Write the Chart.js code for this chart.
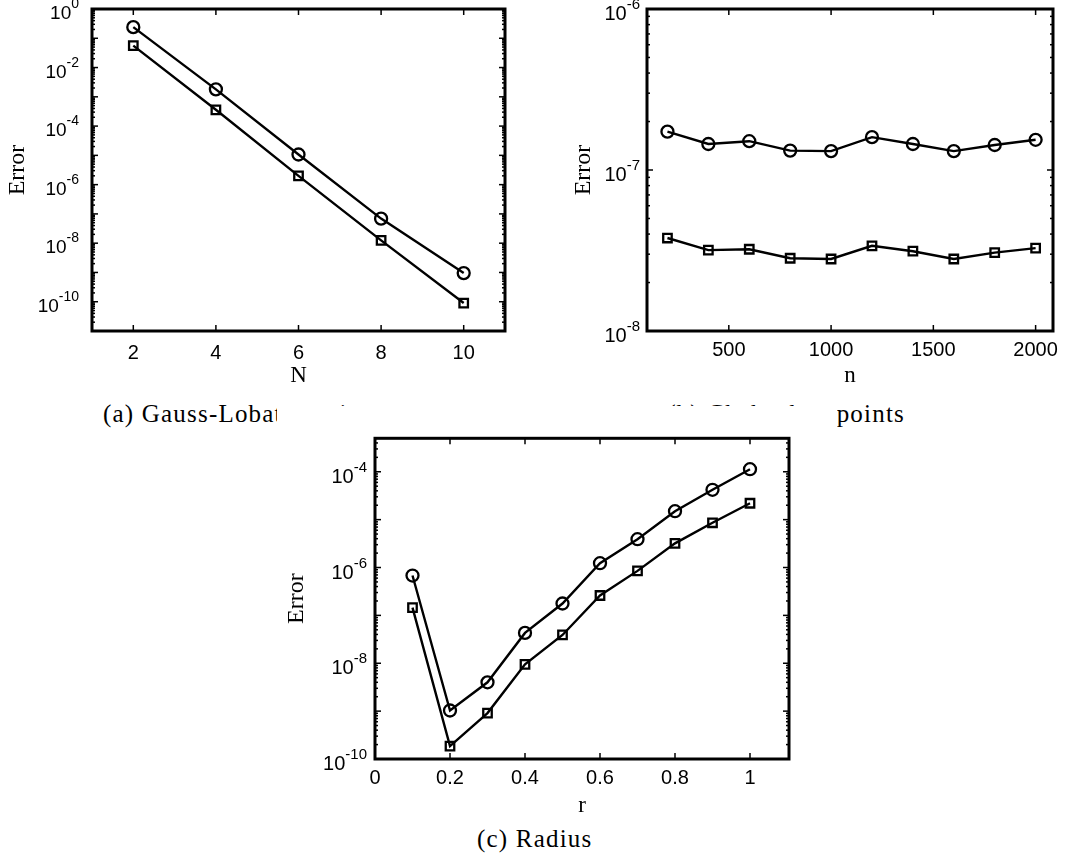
<!DOCTYPE html>
<html>
<head>
<meta charset="utf-8">
<script src="https://cdn.jsdelivr.net/npm/chart.js@4.4.1/dist/chart.umd.min.js"></script>
<style>
  body { margin: 0; background: #fff; }
  #page { position: relative; width: 1078px; height: 862px; overflow: hidden; background: #fff; }
  canvas { position: absolute; }
  .cap {
    position: absolute;
    font-family: "Liberation Serif", "Times New Roman", serif;
    font-size: 25px;
    line-height: 25px;
    letter-spacing: 1.2px;
    white-space: nowrap;
    color: #000;
  }
  #cover { position: absolute; left: 277px; top: 406px; width: 560px; height: 24px; background: #fff; }
</style>
</head>
<body>
<div id="page">
  <canvas id="chartA" width="540" height="390" style="left:0;top:0"></canvas>
  <canvas id="chartB" width="538" height="390" style="left:540px;top:0"></canvas>
  <div class="cap" style="left:103px;top:401px">(a) Gauss-Lobatto points</div>
  <div class="cap" style="right:173px;top:401px;text-align:right">(b) Chebyshev points</div>
  <div id="cover"></div>
  <canvas id="chartC" width="520" height="390" style="left:280px;top:430px"></canvas>
  <div class="cap" style="left:477px;top:826px">(c) Radius</div>
</div>
<script>
// (a) Gauss-Lobatto points
const nA = [2, 4, 6, 8, 10];
const circleA = [0.24, 1.8e-3, 1.07e-5, 6.9e-8, 9.5e-10];
const squareA = [0.056, 3.6e-4, 2.0e-6, 1.25e-8, 9.0e-11];
const xTicksA = [2, 4, 6, 8, 10];
const yTicksA = [1e0, 1e-2, 1e-4, 1e-6, 1e-8, 1e-10];

// (b) Chebyshev points
const nB = [200, 400, 600, 800, 1000, 1200, 1400, 1600, 1800, 2000];
const circleB = [1.73e-7, 1.45e-7, 1.51e-7, 1.32e-7, 1.31e-7, 1.60e-7, 1.45e-7, 1.31e-7, 1.43e-7, 1.54e-7];
const squareB = [3.78e-8, 3.18e-8, 3.22e-8, 2.83e-8, 2.80e-8, 3.38e-8, 3.13e-8, 2.80e-8, 3.07e-8, 3.27e-8];
const xTicksB = [500, 1000, 1500, 2000];
const yTicksB = [1e-6, 1e-7, 1e-8];

// (c) Radius
const rC = [0.1, 0.2, 0.3, 0.4, 0.5, 0.6, 0.7, 0.8, 0.9, 1.0];
const circleC = [6.8e-7, 1.03e-9, 4.0e-9, 4.3e-8, 1.77e-7, 1.23e-6, 3.9e-6, 1.5e-5, 4.2e-5, 1.13e-4];
const squareC = [1.45e-7, 1.86e-10, 9.1e-10, 9.5e-9, 3.9e-8, 2.6e-7, 8.5e-7, 3.2e-6, 8.6e-6, 2.2e-5];
const xTicksC = [0, 0.2, 0.4, 0.6, 0.8, 1];
const yTicksC = [1e-4, 1e-6, 1e-8, 1e-10];

Chart.defaults.font.family = '"Liberation Sans", Arial, sans-serif';
Chart.defaults.color = "#000";

// box, inward ticks and 10^k labels, MATLAB style
const framePlugin = {
  id: "frame",
  afterDraw(chart, args, opts) {
    const { ctx, chartArea: a } = chart;
    const x = chart.scales.x;
    const y = chart.scales.y;
    ctx.save();
    ctx.strokeStyle = "#000";
    ctx.lineWidth = 1.5;
    const seg = (x1, y1, x2, y2) => {
      ctx.beginPath();
      ctx.moveTo(x1, y1);
      ctx.lineTo(x2, y2);
      ctx.stroke();
    };
    x.ticks.forEach((t) => {
      const px = x.getPixelForValue(t.value);
      seg(px, a.bottom, px, a.bottom - 6);
      seg(px, a.top, px, a.top + 6);
    });
    const lo = Math.floor(Math.log10(y.min));
    const hi = Math.ceil(Math.log10(y.max));
    for (let e = lo; e <= hi; e++) {
      for (let m = 1; m < 10; m++) {
        const v = m * Math.pow(10, e);
        if (v < y.min * 0.999 || v > y.max * 1.001) continue;
        const py = y.getPixelForValue(v);
        const len = m === 1 ? 6 : 3;
        seg(a.left, py, a.left + len, py);
        seg(a.right, py, a.right - len, py);
      }
    }
    ctx.lineWidth = 3;
    ctx.strokeRect(a.left, a.top, a.right - a.left, a.bottom - a.top);

    // y tick labels with superscript exponent
    ctx.fillStyle = "#000";
    ctx.textAlign = "right";
    ctx.textBaseline = "alphabetic";
    const right = a.left - opts.gap;
    y.ticks.forEach((t) => {
      const py = y.getPixelForValue(t.value);
      const exp = String(Math.round(Math.log10(t.value)));
      ctx.font = opts.sup + 'px "Liberation Sans", Arial, sans-serif';
      const w = ctx.measureText(exp).width;
      ctx.fillText(exp, right, py + opts.supDy);
      ctx.font = opts.base + 'px "Liberation Sans", Arial, sans-serif';
      ctx.fillText("10", right - w, py + opts.baseDy);
    });
    ctx.restore();
  },
};

function makeChart(id, cfg) {
  const pts = (xs, ys) => xs.map((v, i) => ({ x: v, y: ys[i] }));
  const line = {
    borderColor: "#000",
    borderWidth: 2.4,
    pointBorderColor: "#000",
    pointBackgroundColor: "rgba(0,0,0,0)",
    pointBorderWidth: 2.3,
    fill: false,
    tension: 0,
  };
  return new Chart(document.getElementById(id), {
    type: "line",
    data: {
      datasets: [
        { ...line, data: pts(cfg.xs, cfg.circle), pointStyle: "circle", pointRadius: 6 },
        { ...line, data: pts(cfg.xs, cfg.square), pointStyle: "rect", pointRadius: 6 },
      ],
    },
    options: {
      responsive: false,
      animation: false,
      events: [],
      layout: { padding: { top: cfg.padTop, right: cfg.padRight, left: 0, bottom: 0 } },
      plugins: {
        legend: { display: false },
        tooltip: { enabled: false },
        frame: cfg.labels,
      },
      scales: {
        x: {
          type: "linear",
          min: cfg.xMin,
          max: cfg.xMax,
          grid: { display: false, drawTicks: false },
          border: { display: false },
          afterBuildTicks: (s) => { s.ticks = cfg.xTicks.map((v) => ({ value: v })); },
          afterFit: (s) => { s.height = cfg.xHeight; },
          ticks: {
            autoSkip: false,
            maxRotation: 0,
            padding: cfg.xTickPad,
            font: { size: cfg.xTickSize },
            callback: (v) => String(v),
          },
          title: {
            display: true,
            text: cfg.xTitle,
            font: { family: '"Liberation Serif", serif', size: 23 },
            padding: { top: 0, bottom: 0 },
          },
        },
        y: {
          type: "logarithmic",
          min: cfg.yMin,
          max: cfg.yMax,
          grid: { display: false, drawTicks: false },
          border: { display: false },
          afterBuildTicks: (s) => { s.ticks = cfg.yTicks.map((v) => ({ value: v })); },
          afterFit: (s) => { s.width = cfg.yWidth; },
          ticks: { display: false },
          title: {
            display: true,
            text: "Error",
            font: { family: '"Liberation Serif", serif', size: 24 },
            padding: { top: cfg.yTitlePad, bottom: 0 },
          },
        },
      },
    },
    plugins: [framePlugin],
  });
}

makeChart("chartA", {
  xs: nA, circle: circleA, square: squareA,
  xMin: 1, xMax: 11, yMin: 1e-11, yMax: 1,
  xTicks: xTicksA, yTicks: yTicksA, xTitle: "N",
  padTop: 9, padRight: 35, yWidth: 92, xHeight: 59,
  xTickPad: 10, xTickSize: 20, yTitlePad: 3,
  labels: { gap: 13, base: 19, sup: 14, baseDy: 10, supDy: -1 },
});

makeChart("chartB", {
  xs: nB, circle: circleB, square: squareB,
  xMin: 100, xMax: 2085, yMin: 1e-8, yMax: 1e-6,
  xTicks: xTicksB, yTicks: yTicksB, xTitle: "n",
  padTop: 9, padRight: 25, yWidth: 107, xHeight: 59,
  xTickPad: 7, xTickSize: 20, yTitlePad: 29,
  labels: { gap: 7, base: 20, sup: 15, baseDy: 11, supDy: 0 },
});

makeChart("chartC", {
  xs: rC, circle: circleC, square: squareC,
  xMin: 0, xMax: 1.104, yMin: 1e-10, yMax: 5e-4,
  xTicks: xTicksC, yTicks: yTicksC, xTitle: "r",
  padTop: 6, padRight: 11, yWidth: 95, xHeight: 61,
  xTickPad: 7, xTickSize: 20, yTitlePad: 2,
  labels: { gap: 8, base: 20, sup: 15, baseDy: 11, supDy: 0 },
});
</script>
</body>
</html>
